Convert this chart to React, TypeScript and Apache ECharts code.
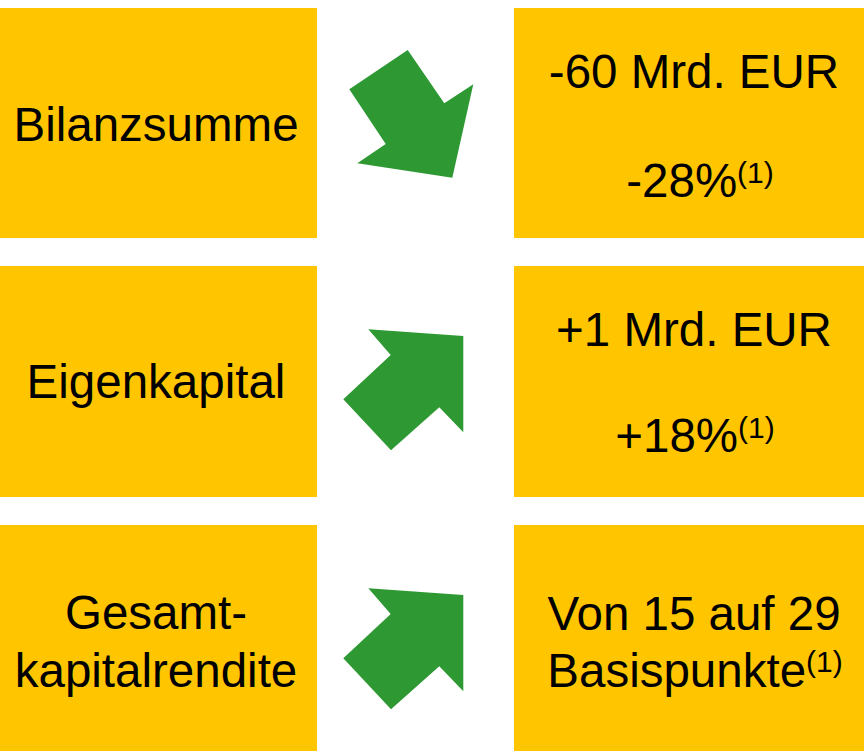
import React, { useEffect, useRef } from "react";
import * as echarts from "echarts";

// ---- content ----
const metrics: string[] = ["Bilanzsumme", "Eigenkapital", "Gesamt-\nkapitalrendite"];
const valueLines: string[] = ["-60 Mrd. EUR", "+1 Mrd. EUR", "Von 15 auf 29"];
const changeLines: string[] = ["-28%", "+18%", "Basispunkte"];
const footnoteMark = "(1)";
const directions: string[] = ["down", "up", "up"];

// ---- style / layout ----
const YELLOW = "#FFC600";
const GREEN = "#2E9933";
const FONT = "'Liberation Sans', Arial, Helvetica, sans-serif";
const rowTops = [8, 266, 525];
const rowBottoms = [238, 497, 760];

// arrow shapes relative to row top
const upArrow: number[][] = [
  [368.3, 63.3], [463.3, 70], [463.3, 166.3], [439.3, 141.3],
  [391, 184.3], [343.3, 133.3], [390.7, 89],
];
const downArrow: number[][] = [
  [407.7, 42], [444.3, 95.3], [473.3, 76.3], [452.3, 169.7],
  [357.3, 155.3], [385.7, 136], [349.3, 81.3],
];

// text vertical centres relative to row top
const leftMid = [116, 115.7, 116.5];
const rightMid1 = [63.4, 63.7, 88.7];
const rightMid2 = [172.5, 169.5, 145];
const rightCx2 = [700, 695, 695];

export default function App() {
  const ref = useRef<HTMLDivElement>(null);
  useEffect(() => {
    if (!ref.current) return;
    const chart = echarts.init(ref.current, undefined, { renderer: "svg" });
    const elements: any[] = [];
    metrics.forEach((m, i) => {
      const top = rowTops[i];
      const h = rowBottoms[i] - top;
      elements.push({
        type: "rect",
        shape: { x: 0, y: top, width: 317, height: h },
        style: { fill: YELLOW },
      });
      elements.push({
        type: "rect",
        shape: { x: 514, y: top, width: 350, height: h },
        style: { fill: YELLOW },
      });
      const pts = (directions[i] === "down" ? downArrow : upArrow).map((p) => [p[0], p[1] + top]);
      elements.push({
        type: "polygon",
        shape: { points: pts },
        style: { fill: GREEN },
      });
      elements.push({
        type: "text",
        x: 156,
        y: top + leftMid[i],
        style: {
          text: m,
          fill: "#000",
          fontSize: 47.5,
          fontFamily: FONT,
          lineHeight: 57.6,
          align: "center",
          verticalAlign: "middle",
        },
      });
      elements.push({
        type: "text",
        x: 694,
        y: top + rightMid1[i],
        style: {
          text: valueLines[i],
          fill: "#000",
          fontSize: 47.5,
          fontFamily: FONT,
          align: "center",
          verticalAlign: "middle",
        },
      });
      elements.push({
        type: "text",
        x: rightCx2[i],
        y: top + rightMid2[i],
        style: {
          text: `{a|${changeLines[i]}}{s|${footnoteMark}}`,
          align: "center",
          verticalAlign: "middle",
          rich: {
            a: { fontSize: 47.5, fontFamily: FONT, fill: "#000", lineHeight: 47 },
            s: { fontSize: 30, fontFamily: FONT, fill: "#000", verticalAlign: "top", lineHeight: 30 },
          },
        },
      });
    });
    chart.setOption({
      animation: false,
      backgroundColor: "#ffffff",
      graphic: { elements },
    });
    return () => chart.dispose();
  }, []);
  return (
    <div
      ref={ref}
      style={{ position: "fixed", left: 0, top: 0, width: 864, height: 751 }}
    />
  );
}
